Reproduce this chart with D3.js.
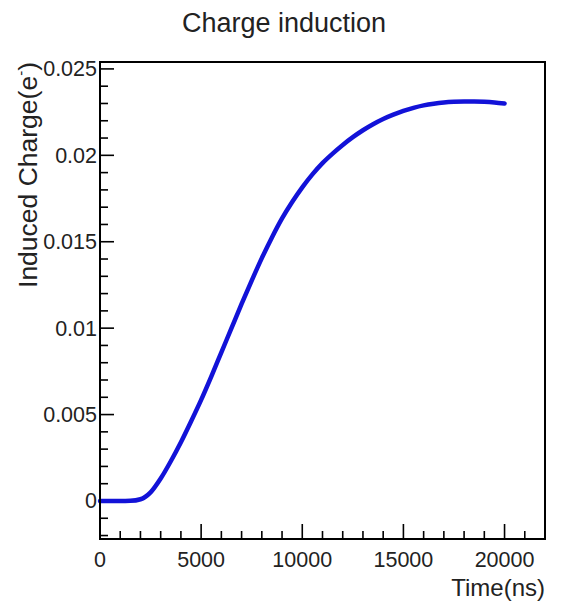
<!DOCTYPE html>
<html>
<head>
<meta charset="utf-8">
<script src="https://cdn.jsdelivr.net/npm/d3@7"></script>
<style>
  body { margin: 0; background: #fff; }
  text { font-family: "Liberation Sans", Arial, sans-serif; fill: #222; }
</style>
</head>
<body>
<script>
// time (ns) and induced charge
var times = [0, 500, 1000, 1500, 2000, 2500, 3000, 3500, 4000, 4500, 5000,
  5500, 6000, 6500, 7000, 7500, 8000, 8500, 9000, 9500, 10000, 10500, 11000,
  11500, 12000, 12500, 13000, 13500, 14000, 14500, 15000, 15500, 16000,
  16500, 17000, 17500, 18000, 18500, 19000, 19500, 20000];
var charge = [0, 0, 0, 0.00001, 0.0001, 0.0005, 0.0013, 0.0023, 0.0034, 0.0046, 0.00585,
  0.0072, 0.0086, 0.0100, 0.0114, 0.01275, 0.01405, 0.01525, 0.01635, 0.0173, 0.01815, 0.0189, 0.01955,
  0.0201, 0.0206, 0.02105, 0.02145, 0.0218, 0.0221, 0.02235, 0.02257, 0.02275, 0.02289,
  0.02299, 0.02306, 0.0231, 0.02312, 0.02312, 0.0231, 0.02306, 0.0230];

var xTicks = [0, 5000, 10000, 15000, 20000];
var xTickLabels = ['0', '5000', '10000', '15000', '20000'];
var yTicks = [0, 0.005, 0.01, 0.015, 0.02, 0.025];
var yTickLabels = ['0', '0.005', '0.01', '0.015', '0.02', '0.025'];

var w = 564;
var h = 606;
var fLeft = 100, fRight = 545, fTop = 62, fBottom = 539;

var svg = d3.select('body')
            .append('svg')
            .attr('width', w)
            .attr('height', h);

var x = d3.scaleLinear().domain([0, 22000]).range([fLeft, fRight]);
var y = d3.scaleLinear().domain([-0.0022, 0.0254]).range([fBottom, fTop]);

// minor ticks every 1000 ns and every 0.001
var xMinor = d3.range(0, 22001, 1000);
var yMinor = d3.range(-2, 26).map(function(i) { return i / 1000; });

var ticks = svg.append('g').attr('stroke', '#000').attr('stroke-width', 1.6);

ticks.selectAll('line.xm')
  .data(xMinor)
  .enter()
  .append('line')
    .attr('x1', function(d) { return x(d); })
    .attr('x2', function(d) { return x(d); })
    .attr('y1', fBottom)
    .attr('y2', function(d) { return fBottom - (d % 5000 === 0 ? 15 : 8); });

ticks.selectAll('line.ym')
  .data(yMinor)
  .enter()
  .append('line')
    .attr('y1', function(d) { return y(d); })
    .attr('y2', function(d) { return y(d); })
    .attr('x1', fLeft)
    .attr('x2', function(d) {
      var major = Math.abs(Math.round(d * 1000) % 5) === 0;
      return fLeft + (major ? 14 : 8);
    });

// curve
var line = d3.line()
  .x(function(d, i) { return x(times[i]); })
  .y(function(d) { return y(d); })
  .curve(d3.curveMonotoneX);

svg.append('path')
  .datum(charge)
  .attr('d', line)
  .attr('fill', 'none')
  .attr('stroke', '#1212d8')
  .attr('stroke-width', 4.5)
  .attr('stroke-linecap', 'round');

// frame
svg.append('rect')
  .attr('x', fLeft)
  .attr('y', fTop)
  .attr('width', fRight - fLeft)
  .attr('height', fBottom - fTop)
  .attr('fill', 'none')
  .attr('stroke', '#000')
  .attr('stroke-width', 2);

// tick labels
svg.selectAll('text.xl')
  .data(xTicks)
  .enter()
  .append('text')
    .text(function(d, i) { return xTickLabels[i]; })
    .attr('x', function(d) { return x(d); })
    .attr('y', 567)
    .attr('text-anchor', 'middle')
    .attr('font-size', '21.5px');

svg.selectAll('text.yl')
  .data(yTicks)
  .enter()
  .append('text')
    .text(function(d, i) { return yTickLabels[i]; })
    .attr('x', 97)
    .attr('y', function(d) { return y(d) + 7.5; })
    .attr('text-anchor', 'end')
    .attr('font-size', '21.5px');

// titles
svg.append('text')
  .text('Charge induction')
  .attr('x', 284)
  .attr('y', 32)
  .attr('text-anchor', 'middle')
  .attr('font-size', '27px');

svg.append('text')
  .text('Time(ns)')
  .attr('x', fRight)
  .attr('y', 596)
  .attr('text-anchor', 'end')
  .attr('font-size', '24px');

var yl = svg.append('text')
  .attr('transform', 'translate(37,' + fTop + ') rotate(-90)')
  .attr('text-anchor', 'end')
  .attr('font-size', '26.5px');
yl.append('tspan').text('Induced Charge(e');
yl.append('tspan').text('-').attr('font-size', '15px').attr('dy', -11);
yl.append('tspan').text(')').attr('dy', 11);
</script>
</body>
</html>
